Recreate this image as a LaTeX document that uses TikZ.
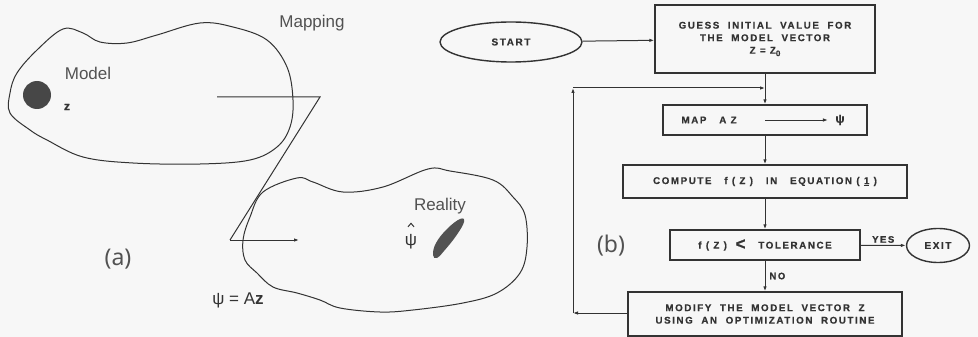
\documentclass[tikz,border=0pt]{standalone}
\usepackage{fontspec}
\setmainfont{Liberation Sans}
\newfontfamily\boxfont{Liberation Sans}[UprightFont={* Bold}, LetterSpace=16, FakeBold=0.6]
\newfontfamily\handfont{Noto Sans}
\usetikzlibrary{arrows.meta,shapes.geometric}
\definecolor{ink}{HTML}{333333}
\definecolor{paper}{HTML}{F7F7F7}
\tikzset{
  arr/.style={-{Latex[length=5pt,width=3.5pt]}},
  stepbox/.style={draw=ink, line width=1.4pt, inner sep=2pt, align=center,
    font=\boxfont\fontsize{9.8}{12.5}\selectfont, text=ink},
  boxtxt/.style={inner sep=1pt, font=\boxfont\fontsize{9.8}{12.5}\selectfont, text=ink},
  smalltxt/.style={inner sep=1pt, font=\boxfont\fontsize{9.5}{11}\selectfont, text=ink},
  term/.style={draw=ink, line width=1.4pt, ellipse, inner sep=0pt,
    font=\boxfont\fontsize{10}{12}\selectfont, text=ink},
  blob/.style={draw=ink, line width=1pt},
  label/.style={font=\fontsize{17}{19}\selectfont, text=ink!85},
  hand/.style={font=\handfont\fontsize{23}{25}\selectfont, text=ink!85},
}
\begin{document}
\begin{tikzpicture}[x=1pt,y=-1pt, ink, line width=1pt]
\fill[paper] (0,0) rectangle (978,337);
\useasboundingbox (0,0) rectangle (978,337);

% ---- (a): model space and reality space ----
\draw[blob] plot[smooth cycle, tension=0.6] coordinates {
  (63,29) (83,33) (100,42) (127,43) (157,35) (200,23) (233,27) (267,40)
  (287,67) (293,100) (290,127) (277,147) (250,160) (200,164) (133,163)
  (83,157) (47,140) (30,130) (10,113) (10,93) (17,73) (37,50)};
\fill[ink!90] (37,95) circle (14);
\node[boxtxt, font=\boxfont\fontsize{12}{12}\selectfont] (zlab) at (67,107) {z};
\node[label] (model) at (88,73) {Model};
\node[label] (mapping) at (312,23) {Mapping};

\draw[blob] plot[smooth cycle, tension=0.6] coordinates {
  (297,178) (313,182) (343,192) (383,187) (428,169) (450,171) (493,180)
  (513,197) (525,215) (527,247) (520,273) (497,293) (463,303) (413,310)
  (380,312) (340,308) (320,300) (297,293) (273,287) (257,273) (245,260)
  (243,240) (250,217) (263,192)};
\node[label] (reality) at (440,206) {Reality};
% psi with a hat drawn above it
\node[font=\fontsize{17}{17}\selectfont, text=ink] (psihat) at (411,242) {ψ};
\draw[line width=1pt, line join=miter] ([xshift=-3pt,yshift=4pt]psihat.north) -- ([yshift=7.5pt]psihat.north) -- ([xshift=3pt,yshift=4pt]psihat.north);
\fill[ink!85] plot[smooth cycle, tension=0.7] coordinates {
  (460,219) (464,222) (456,236) (444,251) (437,258) (433,255) (436,243) (447,229)};
\node[font=\fontsize{17}{19}\selectfont, text=ink] (psiaz) at (238,300) {ψ = A\textbf{z}};

% mapping from the model space into reality
\coordinate (mapA) at (217,97);
\coordinate (mapB) at (320,97);
\coordinate (mapC) at (230,240);
\coordinate (mapD) at (299,240);
\draw (mapA) -- (mapB) -- (mapC);
\draw[arr] (mapC) -- (mapD);

\node[hand] (tagA) at (118,259) {(a)};
\node[hand] (tagB) at (611,246) {(b)};

% ---- (b): flowchart ----
\node[term, minimum width=142, minimum height=40] (start) at (511,42) {START};
\node[stepbox, minimum width=220, minimum height=68] (guess) at (765,39)
  {GUESS\ \ INITIAL\ \ VALUE\ \ FOR\\THE\ \ MODEL\ \ VECTOR\\Z = Z\raisebox{-2.5pt}{\fontsize{8}{8}\selectfont 0}};
\node[stepbox, minimum width=204, minimum height=30] (map) at (765,120) {};
\node[boxtxt, anchor=west] (mapaz) at (680,120) {MAP\ \ \ A Z};
\node[boxtxt] (mappsi) at (840,120) {\fontsize{12}{12}\selectfont ψ};
\coordinate (mapArrS) at (765,120);
\node[stepbox, minimum width=284, minimum height=33] (comp) at (765,181.5)
  {COMPUTE\ \ \ f ( Z )\ \ \ IN\ \ \ EQUATION ( \underline{1} )};
\node[stepbox, minimum width=190, minimum height=30] (tol) at (765,245)
  {f ( Z )\ \ \raisebox{-1pt}{\fontsize{17}{17}\selectfont\textless}\ \ \ TOLERANCE};
\node[term, minimum width=63, minimum height=34] (exit) at (938,245.5) {EXIT};
\node[stepbox, minimum width=274, minimum height=44] (mod) at (765,314)
  {MODIFY\ \ THE\ \ MODEL\ \ VECTOR\ \ Z\\USING\ \ AN\ \ OPTIMIZATION\ \ ROUTINE};

\draw[arr] (start) -- (guess);
\draw[arr] (guess) -- (map);
\draw[arr, shorten >=6pt] (mapArrS) -- (mappsi.west);
\draw[arr] (map) -- (comp);
\draw[arr] (comp) -- (tol);
\draw[arr] (tol) -- node[above, smalltxt, yshift=1pt] (yes) {YES} (exit);
\draw[arr] (tol) -- node[right, smalltxt, xshift=3pt] (no) {NO} (mod);

% feedback loop back to the mapping step
\coordinate (fbL) at (573,313);
\coordinate (fbT) at (573,88);
\coordinate (fbJ) at (765,88);
\draw[arr] (mod.west |- fbL) -- (fbL);
\draw[arr] (fbL) -- (fbT);
\draw[arr] (fbT) -- (fbJ);
\end{tikzpicture}
\end{document}
